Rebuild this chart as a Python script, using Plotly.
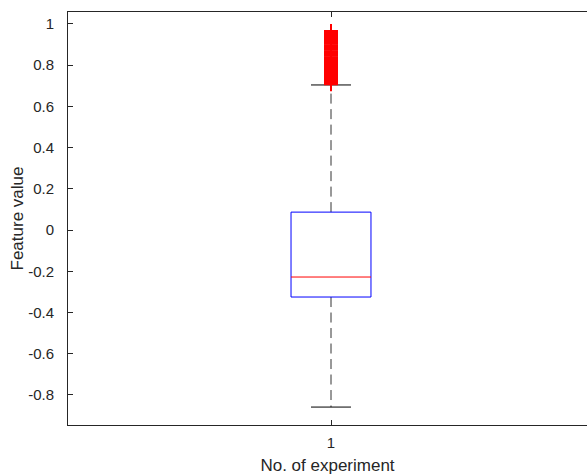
import plotly.graph_objects as go

# ---- data ----
category = [1]
q1 = [-0.325]
median = [-0.228]
q3 = [0.087]
lower_whisker = [-0.859]
upper_whisker = [0.704]
outliers = [0.707, 0.712, 0.718, 0.723, 0.730, 0.735, 0.740, 0.747, 0.752, 0.757,
            0.764, 0.769, 0.776, 0.781, 0.786, 0.793, 0.798, 0.805, 0.810, 0.816,
            0.821, 0.828, 0.833, 0.839, 0.846, 0.851, 0.856, 0.863, 0.868, 0.875,
            0.880, 0.885, 0.892, 0.897, 0.904, 0.909, 0.915, 0.921, 0.927, 0.932,
            0.938, 0.945, 0.950, 0.955, 0.961, 0.966]
ytick_vals = [-0.8, -0.6, -0.4, -0.2, 0, 0.2, 0.4, 0.6, 0.8, 1]
ytick_text = ["-0.8", "-0.6", "-0.4", "-0.2", "0", "0.2", "0.4", "0.6", "0.8", "1"]

box_half = 0.076
cap_half = 0.038

fig = go.Figure()
for i, c in enumerate(category):
    # whiskers (dashed)
    fig.add_trace(go.Scatter(x=[c, c], y=[q3[i], upper_whisker[i]], mode="lines",
                             line=dict(color="#333333", width=1, dash="10px,5.5px"),
                             hoverinfo="skip", showlegend=False))
    fig.add_trace(go.Scatter(x=[c, c], y=[q1[i], lower_whisker[i]], mode="lines",
                             line=dict(color="#333333", width=1, dash="10px,5.5px"),
                             hoverinfo="skip", showlegend=False))
    # caps
    fig.add_trace(go.Scatter(x=[c - cap_half, c + cap_half], y=[upper_whisker[i]] * 2,
                             mode="lines", line=dict(color="#000000", width=1),
                             hoverinfo="skip", showlegend=False))
    fig.add_trace(go.Scatter(x=[c - cap_half, c + cap_half], y=[lower_whisker[i]] * 2,
                             mode="lines", line=dict(color="#000000", width=1),
                             hoverinfo="skip", showlegend=False))
    # box
    fig.add_trace(go.Scatter(x=[c - box_half, c + box_half, c + box_half, c - box_half, c - box_half],
                             y=[q1[i], q1[i], q3[i], q3[i], q1[i]], mode="lines",
                             line=dict(color="#0000ff", width=1),
                             hoverinfo="skip", showlegend=False))
    # median
    fig.add_trace(go.Scatter(x=[c - box_half, c + box_half], y=[median[i]] * 2,
                             mode="lines", line=dict(color="#ff0000", width=1),
                             hoverinfo="skip", showlegend=False))
    # outliers
    fig.add_trace(go.Scatter(x=[c] * len(outliers), y=outliers, mode="markers",
                             marker=dict(symbol="cross-thin", size=10,
                                         line=dict(color="#ff0000", width=2)),
                             hoverinfo="skip", showlegend=False))

font_family = "Liberation Sans, Arial, sans-serif"
fig.update_layout(
    width=587, height=475,
    margin=dict(l=68, r=0, t=12, b=50, autoexpand=False),
    paper_bgcolor="white", plot_bgcolor="white",
    font=dict(family=font_family, size=15, color="#262626"),
    xaxis=dict(range=[0.5, 1.4867], tickvals=[1], ticktext=["1"],
               ticks="inside", ticklen=5, tickcolor="#262626", ticklabelstandoff=4,
               showline=True, linecolor="#262626", linewidth=1, mirror="ticks",
               showgrid=False, zeroline=False, automargin=False,
               title=dict(text="No. of experiment", font=dict(size=17), standoff=9)),
    yaxis=dict(range=[-0.946, 1.058], tickvals=ytick_vals, ticktext=ytick_text,
               ticks="inside", ticklen=5, tickcolor="#262626", ticklabelstandoff=10,
               showline=True, linecolor="#262626", linewidth=1, mirror=False,
               showgrid=False, zeroline=False, automargin=False,
               title=dict(text="Feature value", font=dict(size=17), standoff=0)),
)

fig.write_html("out.html", config={"displayModeBar": False},
               post_script="document.body.style.margin='0';")
